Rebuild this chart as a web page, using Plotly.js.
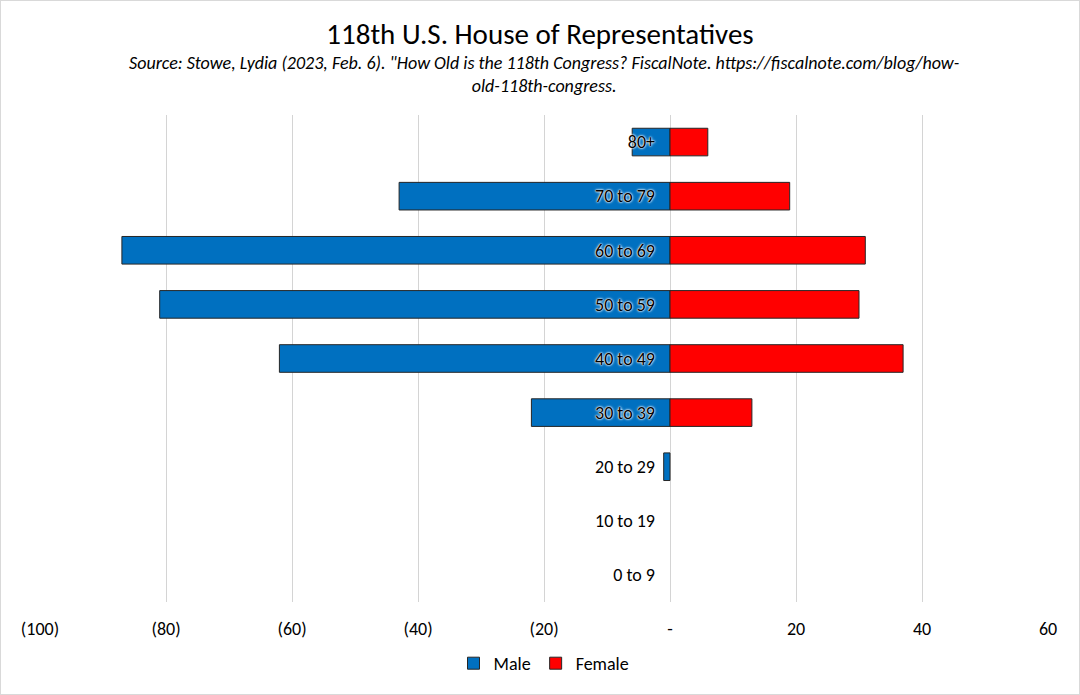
<!DOCTYPE html>
<html>
<head>
<meta charset="utf-8">
<script src="https://cdn.plot.ly/plotly-3.0.1.min.js"></script>
<style>
  html, body { margin: 0; padding: 0; background: #fff; }
  #chart { width: 1080px; height: 695px; box-sizing: border-box; border: 1px solid #d9d9d9; }
</style>
</head>
<body>
<div id="chart"></div>
<script>
// age groups, top to bottom
const ageGroups = ['80+', '70 to 79', '60 to 69', '50 to 59', '40 to 49', '30 to 39', '20 to 29', '10 to 19', '0 to 9'];
// male counts are plotted to the left (negative)
const maleCounts = [-6, -43, -87, -81, -62, -22, -1, 0, 0];
const femaleCounts = [6, 19, 31, 30, 37, 13, 0, 0, 0];

const xTickVals = [-100, -80, -60, -40, -20, 0, 20, 40, 60];
const xTickText = ['(100)', '(80)', '(60)', '(40)', '(20)', '-', '20', '40', '60'];

const xMin = -100, xMax = 60;
const fontFam = 'Carlito, Calibri, "Open Sans", "Liberation Sans", sans-serif';
const plotH = 491;

// no outline on empty bars
const outlineWidths = vals => vals.map(v => (v === 0 ? 0 : 1));

const data = [
  {
    type: 'bar', orientation: 'h', name: 'Male',
    y: ageGroups, x: maleCounts,
    marker: { color: '#0070C0', line: { color: '#262626', width: outlineWidths(maleCounts) } },
    hoverinfo: 'x+y'
  },
  {
    type: 'bar', orientation: 'h', name: 'Female',
    y: ageGroups, x: femaleCounts,
    marker: { color: '#FF0000', line: { color: '#262626', width: outlineWidths(femaleCounts) } },
    hoverinfo: 'x+y'
  }
];

const layout = {
  width: 1078, height: 693,
  margin: { l: 39, r: 31, t: 114, b: 88 },
  paper_bgcolor: '#ffffff', plot_bgcolor: '#ffffff',
  font: { family: fontFam, size: 18, color: '#000' },
  barmode: 'relative',
  bargap: 0.49,
  title: {
    text: '118th U.S. House of Representatives',
    font: { family: fontFam, size: 29, color: '#000' },
    x: 0.5, xanchor: 'center', y: 0.953, yanchor: 'middle'
  },
  annotations: [{
    xref: 'paper', yref: 'paper', x: 0.5, y: 1.0 + 41 / plotH, xanchor: 'center', yanchor: 'middle',
    showarrow: false, align: 'center',
    text: '<i>Source: Stowe, Lydia (2023, Feb. 6). "How Old is the 118th Congress? FiscalNote. https://fiscalnote.com/blog/how-<br>old-118th-congress.</i>',
    font: { family: fontFam, size: 18, color: '#000' }
  }],
  xaxis: {
    range: [xMin, xMax],
    tickvals: xTickVals, ticktext: xTickText,
    showgrid: true, gridcolor: '#d4d4d4', gridwidth: 1.3,
    zeroline: true, zerolinecolor: '#d4d4d4', zerolinewidth: 1.3,
    showline: false, ticks: '',
    tickfont: { family: fontFam, size: 18, color: '#000' },
    ticklabelstandoff: 14,
    fixedrange: true
  },
  yaxis: {
    type: 'category',
    categoryorder: 'array', categoryarray: ageGroups,
    autorange: 'reversed',
    anchor: 'free', position: (0 - xMin) / (xMax - xMin), side: 'left',
    showgrid: false, zeroline: false, showline: false, ticks: '',
    ticklabelstandoff: 15,
    tickfont: { family: fontFam, size: 18, color: '#000',
      shadow: '0px 0px 3px #ffffff, 0px 0px 2px #ffffff, 0px 0px 1px #ffffff' },
    fixedrange: true
  },
  showlegend: true,
  legend: {
    orientation: 'h', x: 0.5, xanchor: 'center', y: -62 / plotH, yanchor: 'middle',
    font: { family: fontFam, size: 18, color: '#000' },
    traceorder: 'normal', itemclick: false, itemdoubleclick: false
  }
};

Plotly.newPlot('chart', data, layout, { displayModeBar: false, responsive: false });
</script>
</body>
</html>
